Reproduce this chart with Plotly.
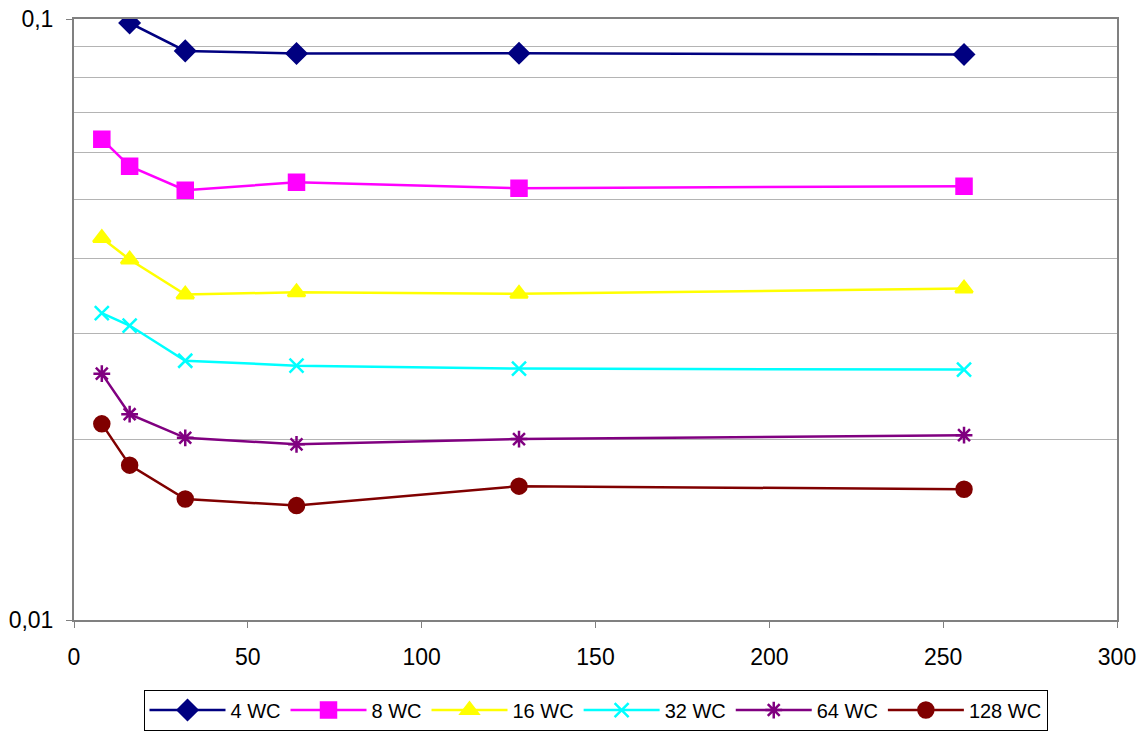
import plotly.graph_objects as go

# Window counts on the x axis
window_sizes = [8, 16, 32, 64, 128, 256]

# Measured values per series (log scale)
wc4 = [0.110, 0.0985, 0.0885, 0.0876, 0.0877, 0.0873]
wc8 = [0.0631, 0.0569, 0.0519, 0.0535, 0.0523, 0.0527]
wc16 = [0.0432, 0.0398, 0.0348, 0.0351, 0.0349, 0.0356]
wc32 = [0.0324, 0.0309, 0.0270, 0.0265, 0.0262, 0.0261]
wc64 = [0.0257, 0.0220, 0.0201, 0.0196, 0.0200, 0.0203]
wc128 = [0.0212, 0.0181, 0.0159, 0.0155, 0.0167, 0.0165]

series_names = ["4 WC", "8 WC", "16 WC", "32 WC", "64 WC", "128 WC"]
series_values = [wc4, wc8, wc16, wc32, wc64, wc128]

y_tick_vals = [0.01, 0.1]
y_tick_text = ["0,01", "0,1"]
y_grid_vals = [0.02, 0.03, 0.04, 0.05, 0.06, 0.07, 0.08, 0.09]

colors = ["#000080", "#FF00FF", "#FFFF00", "#00FFFF", "#800080", "#800000"]
symbols = ["diamond", "square", "triangle-up", "x-thin-open", "asterisk-open", "circle"]
sizes = [15, 15, 15, 14, 14, 15]

fig = go.Figure()
for name, vals, c, s, sz in zip(series_names, series_values, colors, symbols, sizes):
    fig.add_trace(go.Scatter(
        x=window_sizes, y=vals, name=name, mode="lines+markers",
        line=dict(color=c, width=2.5),
        marker=dict(symbol=s, size=sz, color=c, line=dict(color=c, width=2.5)),
    ))

axis_font = dict(family="Liberation Sans, Arial, sans-serif", size=23, color="#000000")

fig.update_layout(
    width=1147, height=732,
    margin=dict(l=74, r=30, t=19, b=112, autoexpand=False),
    paper_bgcolor="white", plot_bgcolor="white",
    font=axis_font,
    showlegend=True,
    legend=dict(
        orientation="h", x=0.5, xanchor="center",
        yref="container", y=0.002, yanchor="bottom",
        bordercolor="#000000", borderwidth=1,
        font=dict(family="Liberation Sans, Arial, sans-serif", size=20, color="#000000"),
        itemwidth=76, tracegroupgap=0,
    ),
)

fig.update_xaxes(
    range=[0, 300], dtick=50, tick0=0,
    showgrid=False, zeroline=False,
    showline=True, linecolor="#808080", linewidth=2, mirror=True,
    ticks="outside", ticklen=6, tickcolor="#808080",
    ticklabelstandoff=9, automargin=False,
    tickfont=axis_font,
)

fig.update_yaxes(
    type="log", range=[-2, -1],
    tickvals=y_tick_vals, ticktext=y_tick_text,
    showgrid=False, zeroline=False,
    showline=True, linecolor="#808080", linewidth=2, mirror=True,
    ticks="outside", ticklen=6, tickcolor="#808080",
    ticklabelstandoff=8, automargin=False,
    tickfont=axis_font,
    minor=dict(tickvals=y_grid_vals, showgrid=True, gridcolor="#b4b4b4",
               gridwidth=1, ticks=""),
)

fig.write_html("out.html")
